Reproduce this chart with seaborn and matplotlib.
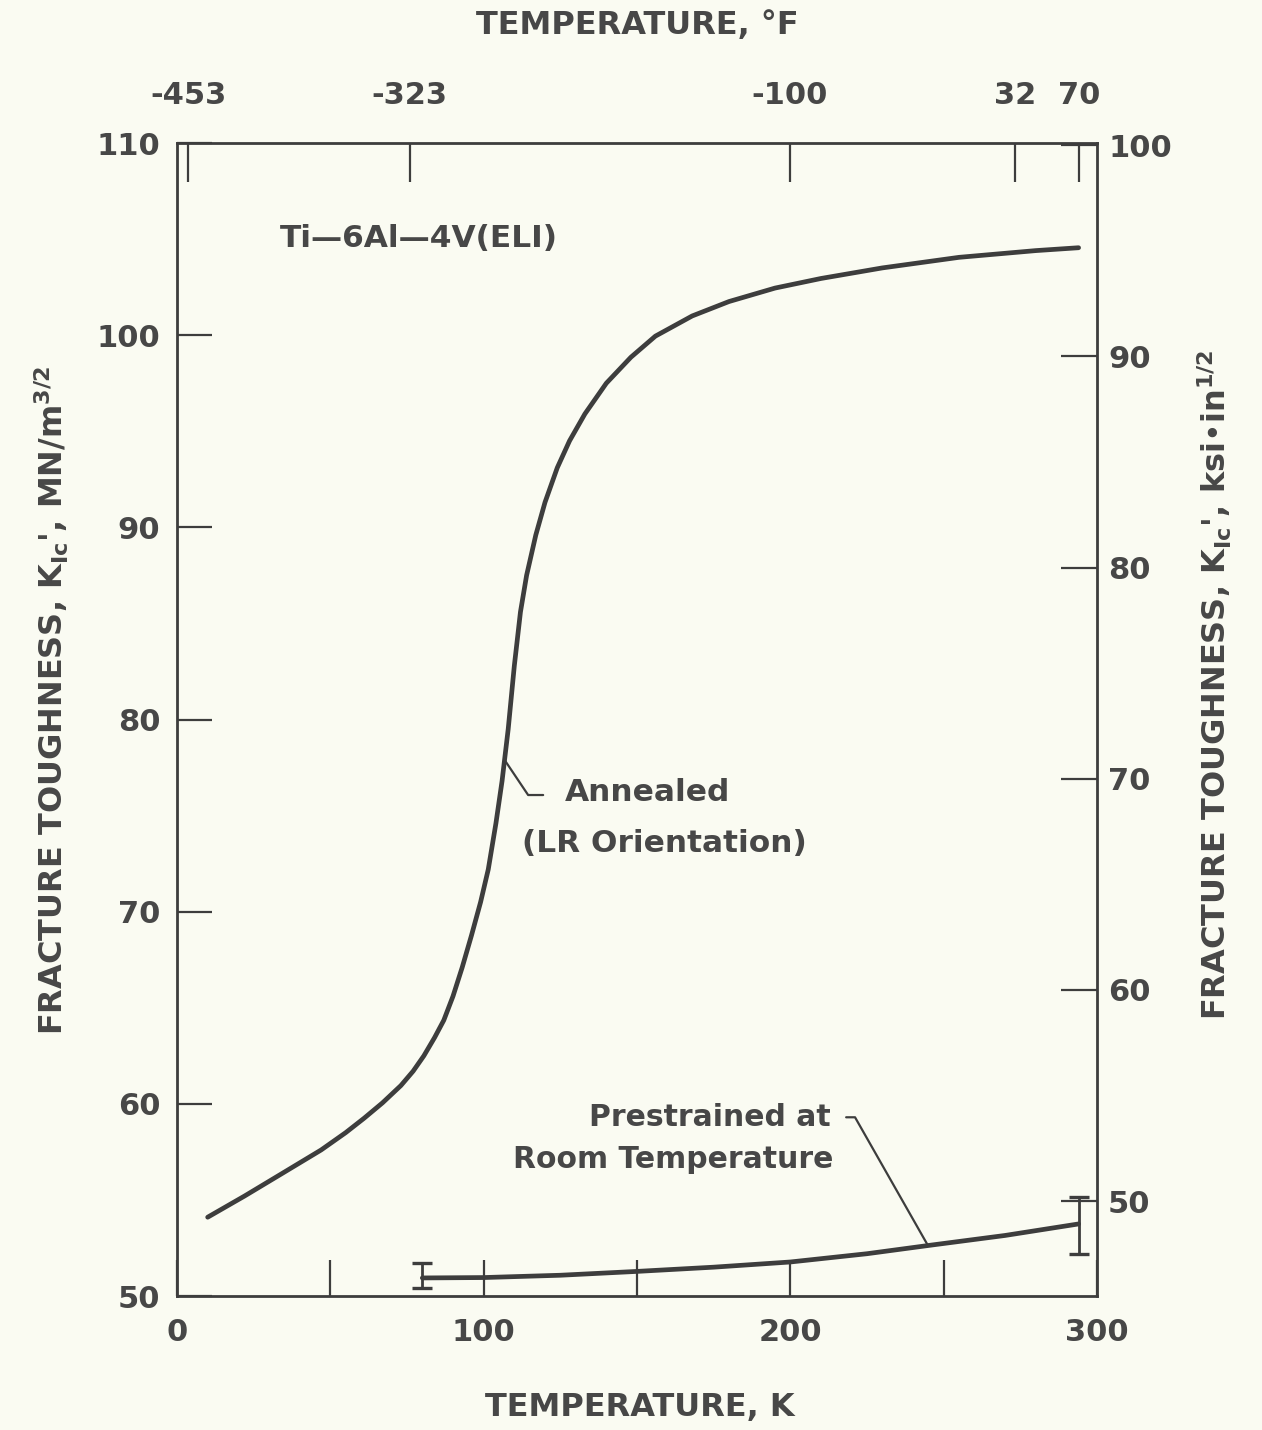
import matplotlib
matplotlib.use("Agg")
import matplotlib.pyplot as plt
import seaborn as sns
import numpy as np
import pandas as pd

# Annealed Ti-6Al-4V (ELI), LR orientation: K_Ic (MN/m^3/2) vs temperature (K)
annealed_T = [10, 22, 34, 47, 55, 61, 67, 73, 77, 80.5, 84, 87, 90, 93, 96, 99,
              101.5, 104, 106, 108, 110, 112, 114, 117, 120, 124, 128, 133, 140,
              148, 156, 168, 180, 195, 210, 230, 255, 280, 294]
annealed_K = [54.1, 55.2, 56.35, 57.6, 58.5, 59.25, 60.05, 60.95, 61.7, 62.5,
              63.45, 64.35, 65.6, 67.1, 68.75, 70.5, 72.2, 74.6, 76.8, 79.5,
              82.8, 85.6, 87.5, 89.6, 91.3, 93.1, 94.5, 95.9, 97.5, 98.85, 99.95,
              101.0, 101.75, 102.45, 102.95, 103.5, 104.05, 104.4, 104.55]

# Prestrained at room temperature
prestrained_T = [80, 100, 125, 150, 175, 200, 225, 246, 270, 294]
prestrained_K = [50.94, 50.96, 51.08, 51.28, 51.5, 51.77, 52.2, 52.65, 53.15, 53.75]

# Scatter bands on the prestrained data
band_T = [80, 294]
band_K = [50.94, 53.75]
band_low = [50.42, 52.19]
band_high = [51.72, 55.15]

# Axis ticks
kelvin_labels = [0, 100, 200, 300]
kelvin_minor = [50, 150, 250]
si_ticks = [50, 60, 70, 80, 90, 100, 110]
ksi_ticks = [50, 60, 70, 80, 90, 100]
fahrenheit_ticks = [-453, -323, -100, 32, 70]

MN_PER_KSI = 1.0988

ink = "#3d3d3d"
text_c = "#474747"
paper = "#fafbf2"

sns.set_theme(style="white")
plt.rcParams["font.family"] = ["DejaVu Sans"]
plt.rcParams["font.weight"] = "bold"
plt.rcParams["mathtext.fontset"] = "dejavusans"
plt.rcParams["text.color"] = text_c
plt.rcParams["axes.labelcolor"] = text_c
plt.rcParams["xtick.color"] = ink
plt.rcParams["ytick.color"] = ink

fig = plt.figure(figsize=(12.62, 14.30), dpi=100, facecolor=paper)
ax = fig.add_axes([177 / 1262, 1 - 1296 / 1430, 920 / 1262, 1153 / 1430])
ax.set_facecolor(paper)

df_a = pd.DataFrame({"T": annealed_T, "K": annealed_K})
df_p = pd.DataFrame({"T": prestrained_T, "K": prestrained_K})
sns.lineplot(data=df_a, x="T", y="K", ax=ax, color=ink, lw=3.4,
             solid_capstyle="round", solid_joinstyle="round", sort=False)
sns.lineplot(data=df_p, x="T", y="K", ax=ax, color=ink, lw=3.4,
             solid_capstyle="round", solid_joinstyle="round", sort=False)

yerr = [np.array(band_K) - np.array(band_low), np.array(band_high) - np.array(band_K)]
ax.errorbar(band_T, band_K, yerr=yerr, fmt="none", ecolor=ink, elinewidth=2.0,
            capsize=7, capthick=2.4)

ax.set_xlim(0, 300)
ax.set_ylim(50, 110)

tick_font = dict(fontsize=22, fontweight="bold", color=text_c)

ax.set_xticks(kelvin_labels)
ax.set_xticks(kelvin_minor, minor=True)
ax.set_xticklabels([str(v) for v in kelvin_labels], **tick_font)
ax.set_yticks(si_ticks)
ax.set_yticklabels([str(v) for v in si_ticks], **tick_font)
ax.tick_params(axis="x", which="both", direction="in", length=26, width=1.6,
               pad=16, top=False)
ax.tick_params(axis="y", which="both", direction="in", length=25, width=1.6,
               pad=12, right=False)

for s in ax.spines.values():
    s.set_visible(True)
    s.set_color(ink)
    s.set_linewidth(2.0)

# Right axis in ksi*in^1/2
axr = ax.twinx()
axr.set_ylim(50 / MN_PER_KSI, 110 / MN_PER_KSI)
axr.set_yticks(ksi_ticks)
axr.set_yticklabels([str(v) for v in ksi_ticks], **tick_font)
axr.tick_params(axis="y", direction="in", length=26, width=1.6, pad=8)
for s in axr.spines.values():
    s.set_visible(False)

# Top axis in degrees Fahrenheit
axt = ax.twiny()
axt.set_xlim(0, 300)
axt.set_xticks([(f - 32) * 5 / 9 + 273.15 for f in fahrenheit_ticks])
axt.set_xticklabels([str(v) for v in fahrenheit_ticks], **tick_font)
axt.tick_params(axis="x", direction="in", length=28, width=1.6, pad=24)
for s in axt.spines.values():
    s.set_visible(False)

label_font = dict(fontsize=23, fontweight="bold", color=text_c)
ax.set_xlabel("TEMPERATURE, K", **label_font)
ax.xaxis.set_label_coords(0.503, -0.097)
ax.xaxis.label.set_va("center")
axt.set_xlabel("TEMPERATURE, °F", **label_font)
axt.xaxis.set_label_coords(0.5, 1.102)
axt.xaxis.label.set_va("center")
ax.set_ylabel(r"FRACTURE TOUGHNESS, K$_{\mathbf{Ic}}$', MN/m$^{\mathbf{3/2}}$", **label_font)
ax.yaxis.set_label_coords(-0.136, 0.517)
ax.yaxis.label.set_va("center")
axr.set_ylabel(r"FRACTURE TOUGHNESS, K$_{\mathbf{Ic}}$', ksi•in$^{\mathbf{1/2}}$", **label_font)
axr.yaxis.set_label_coords(1.128, 0.53)
axr.yaxis.label.set_va("center")

big_note = dict(fontsize=22.5, fontweight="bold", color=text_c)
note_font = dict(fontsize=21.5, fontweight="bold", color=text_c)
ax.text(33.6, 105.05, "Ti—6Al—4V(ELI)", ha="left", va="center", **big_note)
ax.text(126.5, 76.2, "Annealed", ha="left", va="center", **big_note)
ax.text(112.5, 73.57, "(LR Orientation)", ha="left", va="center", **big_note)
ax.plot([106.8, 114.5, 119.4], [77.9, 76.07, 76.07], color=ink, lw=1.6)

ax.text(213, 59.3, "Prestrained at", ha="right", va="center", **note_font)
ax.text(214, 57.08, "Room Temperature", ha="right", va="center", **note_font)
ax.plot([244.9, 221.1, 218.2], [52.62, 59.3, 59.3], color=ink, lw=1.6)

fig.savefig("out.png", dpi=100, facecolor=paper)
